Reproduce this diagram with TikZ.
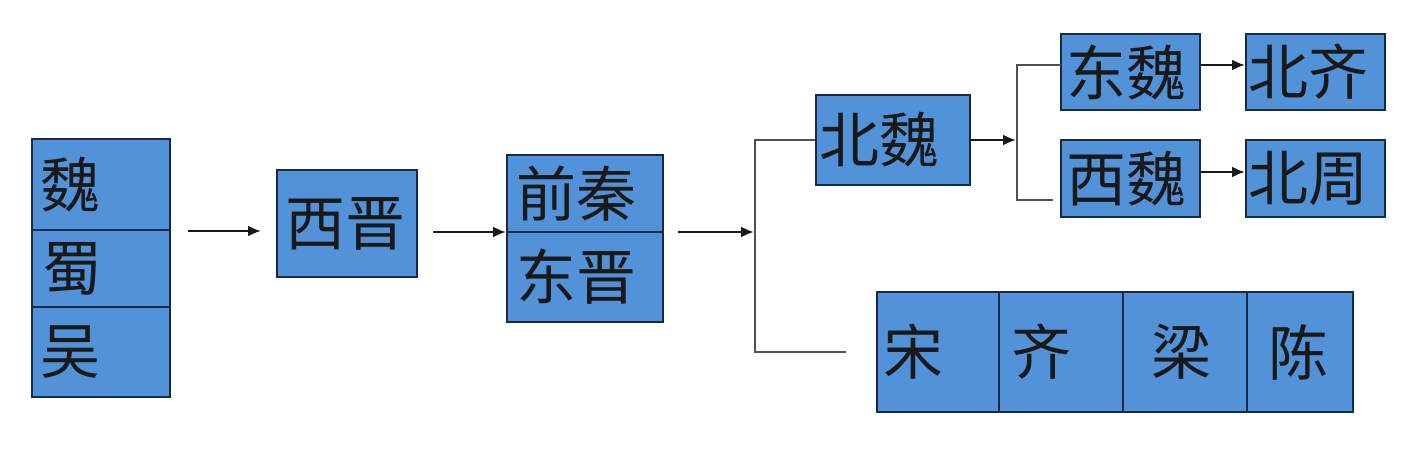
\documentclass[tikz,border=0pt]{standalone}
\usepackage{fontspec}
\newfontfamily\cjk{Noto Sans CJK SC}
\usetikzlibrary{arrows.meta,calc}
\definecolor{boxfill}{RGB}{82,146,216}
\definecolor{boxline}{RGB}{24,42,70}
\definecolor{conn}{RGB}{25,25,25}
\definecolor{brk}{RGB}{80,80,80}
\tikzset{
  box/.style={draw=boxline, fill=boxfill, line width=2pt, rectangle,
    font=\cjk\fontsize{60}{62}\selectfont, align=left, inner ysep=0pt, text=black!90},
  arr/.style={draw=conn, line width=2.2pt, -{Latex[length=13pt,width=11pt]}},
  brline/.style={draw=brk, line width=2.2pt}
}
\begin{document}
\begin{tikzpicture}[x=1pt,y=-1pt]
\useasboundingbox[fill=white] (0,0) rectangle (1428,473);
% left stack
\node[box, minimum height=91pt, inner xsep=8pt, text width=122pt] (wei) at (101,184.5) {魏};
\node[box, minimum height=77pt, inner xsep=10pt, text width=118pt] (shu) at (101,268.5) {蜀};
\node[box, minimum height=90pt, inner xsep=8pt, text width=122pt] (wu) at (101,352) {吴};
% xijin
\node[box, minimum height=107pt, inner xsep=8pt, text width=124pt] (xijin) at (347,223.5) {西晋};
% qianqin / dongjin
\node[box, minimum height=77pt, inner xsep=9pt, text width=138pt] (qianqin) at (585,193.5) {前秦};
\node[box, minimum height=90pt, inner xsep=9pt, text width=138pt] (dongjin) at (585,277) {东晋};
% beiwei
\node[box, minimum height=90pt, inner xsep=3pt, text width=148pt] (beiwei) at (893,140) {北魏};
% dongwei / xiwei
\node[box, minimum height=76pt, inner xsep=5pt, text width=129pt] (dongwei) at (1130.5,72) {东魏};
\node[box, minimum height=77pt, inner xsep=5pt, text width=129pt] (xiwei) at (1130.5,178.5) {西魏};
% beiqi / beizhou
\node[box, minimum height=76pt, inner xsep=2pt, text width=135pt] (beiqi) at (1315.5,72) {北齐};
\node[box, minimum height=77pt, inner xsep=2pt, text width=135pt] (beizhou) at (1315.5,178.5) {北周};
% bottom row
\node[box, minimum height=120pt, inner xsep=6pt, text width=110pt] (song) at (938,352) {宋};
\node[box, minimum height=120pt, inner xsep=12pt, text width=100pt] (qi) at (1061,352) {齐};
\node[box, minimum height=120pt, inner xsep=28pt, text width=68pt] (liang) at (1185,352) {梁};
\node[box, minimum height=120pt, inner xsep=21pt, text width=64pt] (chen) at (1300,352) {陈};
% junctions
\coordinate (j1) at (755,232);
\coordinate (j2) at (1017,140);
\coordinate (t2) at (1061,65);
\coordinate (b2) at (1053,200);
\coordinate (r2) at (1201,172);
% connectors
\draw[arr, shorten <=17pt, shorten >=15pt] (wei.south east) -- (wei.south east -| xijin.west);
\draw[arr, shorten <=15pt] (xijin.east |- j1) -- (qianqin.west |- j1);
\draw[arr, shorten <=14pt, shorten >=1pt] (qianqin.east |- j1) -- (j1);
\draw[brline] (beiwei.west) -| (j1) |- ($(song.west)+(-30,0)$);
\draw[arr, shorten >=1pt] (beiwei.east) -- (j2);
\draw[brline] (t2) -| (j2) |- (b2);
\draw[arr] (dongwei.east |- t2) -- (beiqi.west |- t2);
\draw[arr] (r2) -- (beizhou.west |- r2);
\end{tikzpicture}
\end{document}
